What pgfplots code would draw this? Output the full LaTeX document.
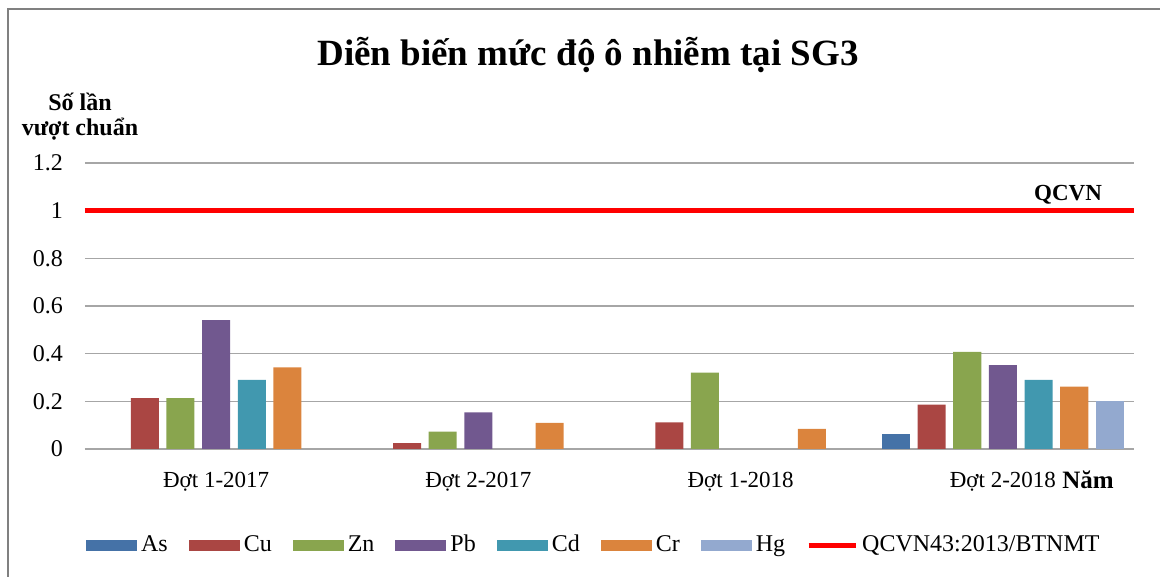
\documentclass[border=0pt]{standalone}
\usepackage{pgfplots}
\pgfplotsset{compat=1.18}
\usepackage{fontspec}
\setmainfont{Liberation Serif}

\definecolor{cAs}{HTML}{4572A7}
\definecolor{cCu}{HTML}{AA4643}
\definecolor{cZn}{HTML}{89A54E}
\definecolor{cPb}{HTML}{71588F}
\definecolor{cCd}{HTML}{4198AF}
\definecolor{cCr}{HTML}{DB843D}
\definecolor{cHg}{HTML}{93A9CF}
\definecolor{gridgray}{HTML}{A6A6A6}

\pgfplotsset{
  barleg/.style={legend image code/.code={\fill[##1] (0pt,-2.75pt) rectangle (25.5pt,2.75pt);}},
}

\begin{document}
\begin{tikzpicture}[x=1pt,y=1pt]
\begin{axis}[
    at={(0,0)}, anchor=south west,
    scale only axis, width=524.5pt, height=143pt,
    xmin=-0.5, xmax=3.5, ymin=0, ymax=1.2,
    xtick={0,1,2,3},
    xticklabels={Đợt 1-2017, Đợt 2-2017, Đợt 1-2018, Đợt 2-2018},
    ytick={0,0.2,0.4,0.6,0.8,1,1.2},
    yticklabels={0,0.2,0.4,0.6,0.8,1,1.2},
    ymajorgrids, grid style={draw=gridgray, line width=0.6pt},
    axis x line*=bottom, axis y line*=left,
    x axis line style={draw=gridgray, line width=0.6pt, -},
    y axis line style={draw=none},
    major tick length=0pt,
    xticklabel style={font=\fontsize{11.5}{13}\selectfont, yshift=-8pt},
    yticklabel style={font=\fontsize{12}{14}\selectfont, xshift=-7.5pt},
    /pgf/number format/assume math mode=true,
    bar width=0.107,
    clip=false,
    legend columns=8,
    legend style={draw=none, at={(-0.005,-0.336)}, anchor=west,
      font=\fontsize{12}{14}\selectfont,
      /tikz/every even column/.append style={column sep=8.5pt}},
]
\addplot[ybar, barleg, fill=cAs, draw=none, bar shift=-0.408] coordinates {(3,0.063)};
\addlegendentry{As}
\addplot[ybar, barleg, fill=cCu, draw=none, bar shift=-0.272] coordinates {(0,0.213) (1,0.025) (2,0.112) (3,0.186)};
\addlegendentry{Cu}
\addplot[ybar, barleg, fill=cZn, draw=none, bar shift=-0.136] coordinates {(0,0.213) (1,0.073) (2,0.320) (3,0.407)};
\addlegendentry{Zn}
\addplot[ybar, barleg, fill=cPb, draw=none, bar shift=0] coordinates {(0,0.541) (1,0.154) (3,0.352)};
\addlegendentry{Pb}
\addplot[ybar, barleg, fill=cCd, draw=none, bar shift=0.136] coordinates {(0,0.290) (3,0.290)};
\addlegendentry{Cd}
\addplot[ybar, barleg, fill=cCr, draw=none, bar shift=0.272] coordinates {(0,0.343) (1,0.110) (2,0.084) (3,0.262)};
\addlegendentry{Cr}
\addplot[ybar, barleg, fill=cHg, draw=none, bar shift=0.408] coordinates {(3,0.201)};
\addlegendentry{Hg}
\addplot[red, line width=2.5pt, sharp plot, no marks,
  legend image code/.code={\draw[red, line width=2.5pt] (0pt,0pt) -- (23.5pt,0pt);}]
  coordinates {(-0.5,1) (3.5,1)};
\addlegendentry{QCVN43:2013/BTNMT}
\end{axis}

% titles and labels
\node[font=\fontsize{18.5}{22}\selectfont\bfseries] at (251.5,197) {Diễn biến mức độ ô nhiễm tại SG3};
\node[font=\fontsize{12}{12.5}\selectfont\bfseries, align=center] at (-2.5,166) {Số lần\\vượt chuẩn};
\node[font=\fontsize{11.5}{13}\selectfont\bfseries] at (491.5,127) {QCVN};
\node[font=\fontsize{12.5}{14}\selectfont\bfseries] at (501.5,-15.5) {Năm};

% outer chart frame
\draw[gray, line width=1.2pt] (-38.5,-80) -- (-38.5,220) -- (560,220);
\pgfresetboundingbox
\useasboundingbox (-42.5,-64) rectangle (537.5,224.5);
\end{tikzpicture}
\end{document}
